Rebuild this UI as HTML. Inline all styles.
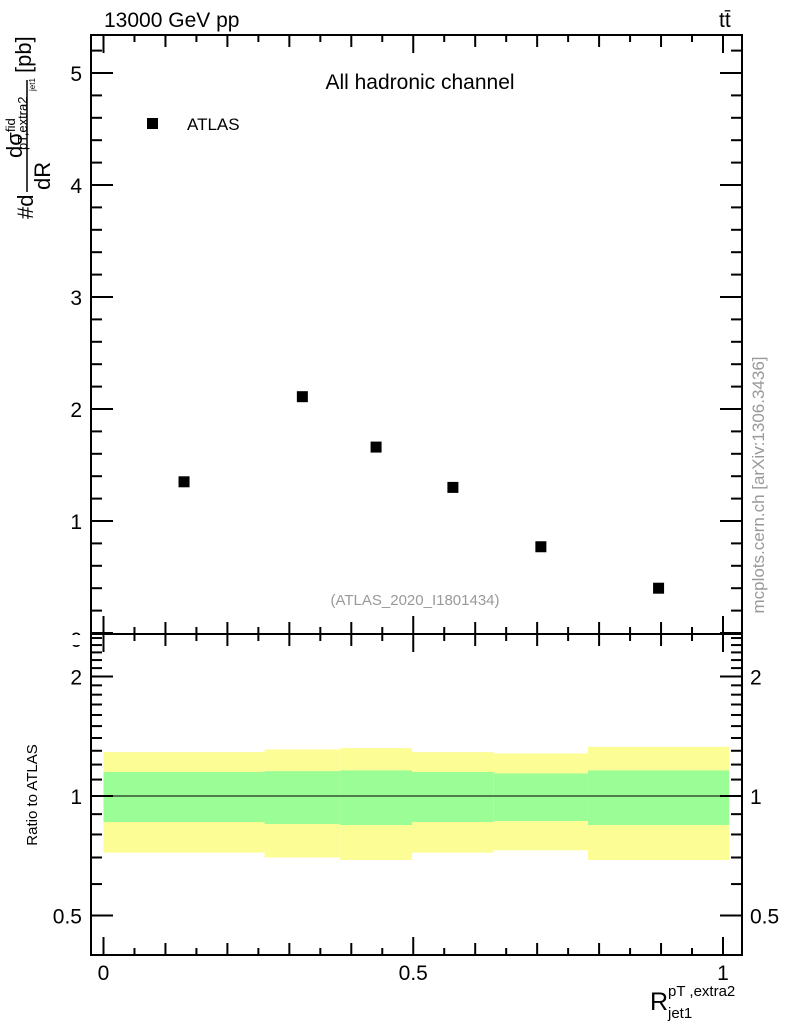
<!DOCTYPE html>
<html><head><meta charset="utf-8"><style>
html,body{margin:0;padding:0;background:#fff;}
svg{display:block;font-family:"Liberation Sans",Arial,sans-serif;}
</style></head><body>
<svg id="chart" width="786" height="1024" viewBox="0 0 786 1024" xmlns="http://www.w3.org/2000/svg">
<g id="bands"></g>
<g id="marks"></g>
<g id="axes"></g>
<text x="104" y="27" font-size="21">13000 GeV pp</text>
<text x="719" y="27" font-size="21">tt̄</text>
<text x="420" y="89" font-size="21" text-anchor="middle">All hadronic channel</text>
<rect x="147" y="118" width="11" height="11" fill="#000"/>
<text x="187" y="130" font-size="17">ATLAS</text>
<text x="415" y="605" font-size="15" fill="#999" text-anchor="middle">(ATLAS_2020_I1801434)</text>
<text transform="translate(764,485) rotate(-90)" font-size="17" fill="#999" text-anchor="middle">mcplots.cern.ch [arXiv:1306.3436]</text>
<text transform="translate(37,795) rotate(-90)" font-size="15" text-anchor="middle">Ratio to ATLAS</text>
<g transform="rotate(-90)">
  <text x="-219" y="33" font-size="22">#d</text>
  <line x1="-192" y1="27" x2="-80" y2="27" stroke="#000" stroke-width="1.5"/>
  <text x="-190" y="50" font-size="22">dR</text>
  <text x="-158" y="22" font-size="22">dσ</text>
  <text x="-132" y="15" font-size="13">fid</text>
  <text x="-150" y="27" font-size="13">pT,extra2</text>
  <text x="-91" y="35" font-size="8">jet1</text>
  <text x="-73" y="31" font-size="22">[pb]</text>
</g>
<g>
  <text x="650" y="1010" font-size="25">R</text>
  <text x="668" y="996" font-size="15">pT ,extra2</text>
  <text x="668" y="1018" font-size="15">jet1</text>
</g>
</svg>
<script>
const binEdges=[0,0.26,0.382,0.498,0.63,0.782,1.01];
const values=[1.35,2.11,1.66,1.30,0.77,0.40];
const greenHi=[1.15,1.155,1.16,1.15,1.14,1.16];
const greenLo=[0.86,0.85,0.845,0.86,0.865,0.845];
const yellowHi=[1.29,1.31,1.32,1.29,1.28,1.33];
const yellowLo=[0.72,0.70,0.69,0.72,0.73,0.69];
const mainTicks=[0,1,2,3,4,5];
const ratioTicks=[0.5,1,2];
const xTicks=[0,0.5,1];

const NS='http://www.w3.org/2000/svg';
const L=91,R=742,T=35,S=634,B=955;
const X=v=>103.5+v*619.5;
const Y=v=>633-v*112;
const RY=v=>796-Math.log2(v)*119.5;
function el(tag,attrs,parent){const e=document.createElementNS(NS,tag);for(const k in attrs)e.setAttribute(k,attrs[k]);parent.appendChild(e);return e;}
const bands=document.getElementById('bands'),marks=document.getElementById('marks'),axes=document.getElementById('axes');
for(let i=0;i<values.length;i++){
  const x0=X(binEdges[i]),x1=X(binEdges[i+1]);
  const yb=el('rect',{x:x0,y:RY(yellowHi[i]),width:x1-x0,height:RY(yellowLo[i])-RY(yellowHi[i]),fill:'#fdfd96'},bands);
  
  
  const gb=el('rect',{x:x0,y:RY(greenHi[i]),width:x1-x0,height:RY(greenLo[i])-RY(greenHi[i]),fill:'#9afd96'},bands);
  
  
  const m=el('rect',{x:(x0+x1)/2-5.5,y:Y(values[i])-5.5,width:11,height:11,fill:'#000'},marks);
  
  
}
const ref=el('line',{x1:X(0),x2:X(1.01),y1:RY(1),y2:RY(1),stroke:'#000','stroke-width':1},axes);


const ln=(x1,y1,x2,y2)=>el('line',{x1,y1,x2,y2,stroke:'#000','stroke-width':2},axes);
el('rect',{x:L,y:T,width:R-L,height:B-T,fill:'none',stroke:'#000','stroke-width':2},axes);
ln(L,S,R,S);
for(let k=0;k<=20;k++){const v=k*0.05,x=X(v);const len=(k%10===0)?18:(k%2===0?12:7);
  ln(x,T,x,T+len);ln(x,S,x,S-len);ln(x,S,x,S+len);ln(x,B,x,B-len);}
xTicks.forEach(v=>{const t=el('text',{x:X(v),y:980,'font-size':21,'text-anchor':'middle'},axes);t.textContent=String(v);
  
  });
for(let k=0;k<=26;k++){const v=k*0.2,y=Y(v);if(y<T)continue;const len=(k%5===0)?22:11;ln(L,y,L+len,y);ln(R,y,R-len,y);}
mainTicks.forEach(v=>{const t=el('text',{x:82,y:Y(v)+8+(v===0?6:0),'font-size':21,'text-anchor':'end'},axes);t.textContent=String(v);
  
  });
for(let k=4;k<=25;k++){const v=k/10,y=RY(v);if(y<S+2||y>B-2)continue;const major=(v===0.5||v===1||v===2);const len=major?22:11;ln(L,y,L+len,y);ln(R,y,R-len,y);}
ratioTicks.forEach(v=>{const y=RY(v)+8;
  const t=el('text',{x:82,y,'font-size':21,'text-anchor':'end'},axes);t.textContent=String(v);
  
  
  const t2=el('text',{x:750,y,'font-size':21},axes);t2.textContent=String(v);
  
  });
// cover part of main "0" label behind lower panel like reference
const cov=el('rect',{x:40,y:S+1,width:49,height:10,fill:'#fff'},axes);


</script>
</body></html>
